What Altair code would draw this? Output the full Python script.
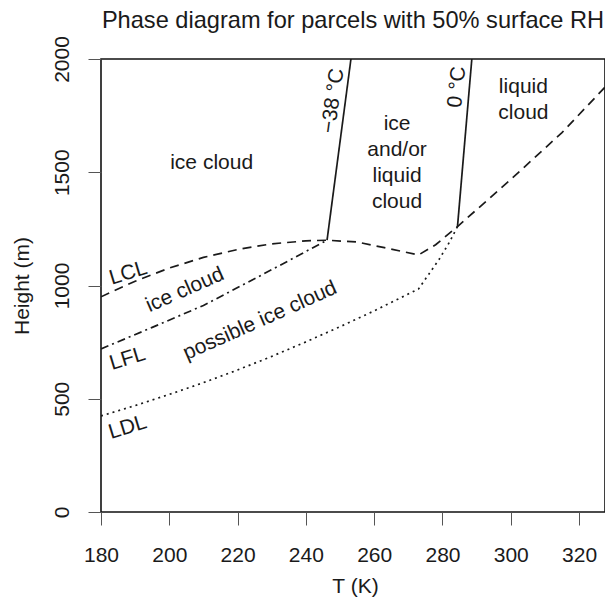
import altair as alt
import pandas as pd

FONT = "Liberation Sans"
INK = "#1a1a1a"

title_text = "Phase diagram for parcels with 50% surface RH"
x_title = "T (K)"
y_title = "Height (m)"
x_ticks = [180, 200, 220, 240, 260, 280, 300, 320]
y_ticks = [0, 500, 1000, 1500, 2000]

# Curves (surface temperature T in K, height z in m)
lcl_T = [180, 190, 200, 210, 220, 230, 240, 246.2, 255, 263, 273, 278, 284.4, 300, 315, 328.5]
lcl_z = [950, 1019, 1077, 1124, 1159, 1184, 1197, 1200, 1192, 1167, 1135, 1180, 1260, 1468, 1675, 1890]
lfl_T = [180, 195, 210, 224, 236, 246.2]
lfl_z = [720, 815, 912, 1022, 1118, 1200]
ldl_T = [180, 190, 200, 210, 220, 230, 240, 250, 260, 273, 276, 279, 282, 284.4]
ldl_z = [424, 470, 519, 571, 627, 687, 751, 818, 888, 985, 1050, 1115, 1190, 1260]
m38_T = [246.2, 253.2]
m38_z = [1200, 2000]
zero_T = [284.4, 288.6]
zero_z = [1260, 2000]

# Annotations
flat_labels = ["ice cloud", "ice\nand/or\nliquid\ncloud", "liquid\ncloud"]
flat_T = [212.4, 266.7, 303.7]
flat_z = [1514, 1687, 1850]
level_labels = ["LCL", "LFL", "LDL"]
level_T = [188.0, 187.8, 187.8]
level_z = [1054, 676, 373]
region_labels = ["ice cloud", "possible ice cloud"]
region_T = [204.6, 226.6]
region_z = [980, 844]
m38_label = ["\u221238 \u00b0C"]
m38_label_T = [247.95]
m38_label_z = [1815]
zero_label = ["0 \u00b0C"]
zero_label_T = [284.3]
zero_label_z = [1876]

W, H = 504, 453
xs = alt.Scale(domain=[180, 327.6], nice=False, zero=False)
ys = alt.Scale(domain=[0, 2000], nice=False, zero=False)

x_axis = alt.Axis(values=x_ticks, format="d", domain=False, grid=False, tickSize=13,
                  tickColor="#555", tickWidth=1, labelFontSize=21, labelFont=FONT,
                  labelColor=INK, labelBaseline="alphabetic", labelPadding=36,
                  labelFlush=False, labelOverlap=False, title=x_title, titleFont=FONT,
                  titleFontSize=21, titleFontWeight="normal", titleColor=INK,
                  titleX=254, titleY=80, titleBaseline="alphabetic",
                  titleAlign="center", titleAnchor="middle")
y_axis = alt.Axis(values=y_ticks, format="d", domain=False, grid=False, tickSize=13,
                  tickColor="#555", tickWidth=1, labelFontSize=21, labelFont=FONT,
                  labelColor=INK, labelAngle=270, labelAlign="center",
                  labelBaseline="alphabetic", labelPadding=20, labelFlush=False,
                  labelOverlap=False, title=y_title, titleFont=FONT, titleFontSize=21,
                  titleFontWeight="normal", titleColor=INK, titleAngle=270, titleX=-73,
                  titleY=H / 2, titleBaseline="alphabetic", titleAlign="center",
                  titleAnchor="middle")


def X():
    return alt.X("T:Q", scale=xs, axis=x_axis)


def Y():
    return alt.Y("z:Q", scale=ys, axis=y_axis)


def line(Ts, zs, dash=None):
    df = pd.DataFrame({"T": Ts, "z": zs, "i": list(range(len(Ts)))})
    kw = dict(color=INK, strokeWidth=1.7, clip=True)
    if dash is not None:
        kw["strokeDash"] = dash
    return alt.Chart(df).mark_line(**kw).encode(x=X(), y=Y(), order="i:Q")


def texts(labels, Ts, zs, angle=0, baseline="middle", lh=None):
    df = pd.DataFrame({"T": Ts, "z": zs, "label": labels})
    kw = dict(font=FONT, fontSize=21, color=INK, align="center", baseline=baseline, angle=angle)
    if lh is not None:
        kw["lineBreak"] = "\n"
        kw["lineHeight"] = lh
    return alt.Chart(df).mark_text(**kw).encode(x=X(), y=Y(), text="label:N")


title_layer = alt.Chart(pd.DataFrame({"t": [title_text]})).mark_text(
    font=FONT, fontSize=23.6, color=INK, align="center", baseline="alphabetic"
).encode(text="t:N", x=alt.value(252), y=alt.value(-31))

chart = alt.layer(
    line(lcl_T, lcl_z, [9, 6]),
    line(lfl_T, lfl_z, [8, 4, 2, 4]),
    line(ldl_T, ldl_z, [2, 4]),
    line(m38_T, m38_z),
    line(zero_T, zero_z),
    texts(flat_labels, flat_T, flat_z, baseline="alphabetic", lh=26),
    texts(level_labels, level_T, level_z, angle=343),
    texts(region_labels, region_T, region_z, angle=336),
    texts(m38_label, m38_label_T, m38_label_z, angle=278),
    texts(zero_label, zero_label_T, zero_label_z, angle=276),
    title_layer,
).properties(
    width=W, height=H,
    autosize=alt.AutoSizeParams(type="none"),
    padding={"left": 93, "top": 51, "right": 0, "bottom": 85},
    background="white",
).configure_view(stroke="#111", strokeWidth=1.6)

chart.save("out.html", embed_options={"renderer": "svg", "actions": False})
